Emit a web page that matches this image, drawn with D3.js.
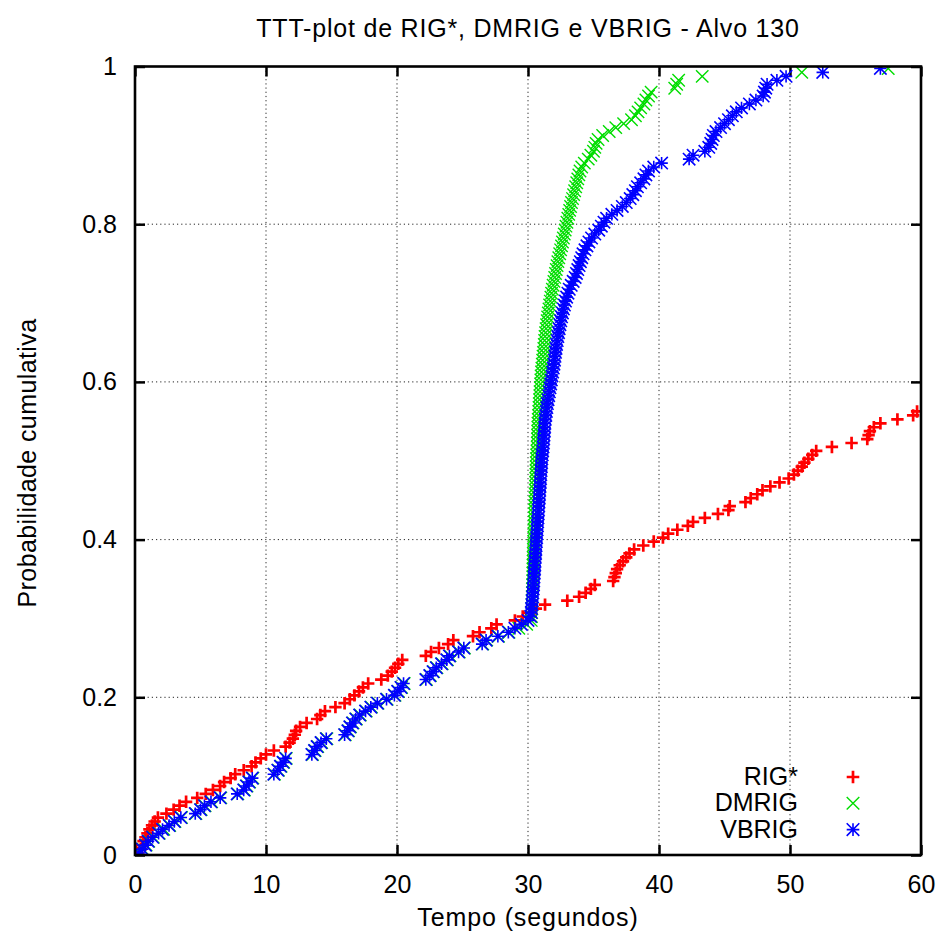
<!DOCTYPE html>
<html>
<head>
<meta charset="utf-8">
<script src="https://cdn.jsdelivr.net/npm/d3@7"></script>
<style>
  html, body { margin: 0; padding: 0; background: #fff; }
  svg { display: block; font-family: "Liberation Sans", Arial, Helvetica, sans-serif; }
</style>
</head>
<body>
<svg id="chart" width="942" height="936"></svg>
<script>
// ---------- data ----------
const title = "TTT-plot de RIG*, DMRIG e VBRIG - Alvo 130";
const xLabel = "Tempo (segundos)";
const yLabel = "Probabilidade cumulativa";
const xTicks = [0, 10, 20, 30, 40, 50, 60];
const yTicks = [0, 0.2, 0.4, 0.6, 0.8, 1];
const seriesNames = ["RIG*", "DMRIG", "VBRIG"];
const runs = 200; // number of runs per algorithm (empirical CDF: p_i = (i - 1/2) / runs)

// sorted times to target (seconds); points beyond 60 s are off-chart
const timesRIG = [0.2,0.45,0.55,0.65,0.8,0.95,1.1,1.3,1.5,1.75,2.4,2.95,3.4,3.9,4.75,5.4,5.95,6.5,6.8,7.3,
  7.65,8.3,8.9,9.2,9.6,10.0,10.6,11.5,11.8,12.05,12.2,12.3,12.6,13.1,13.9,14.15,14.5,15.3,16.0,16.4,
  16.75,17.1,17.4,17.8,18.8,19.3,19.6,19.85,20.1,20.4,22.2,22.6,23.2,23.9,24.3,25.8,26.3,27.2,27.6,29.0,
  29.6,30.1,30.6,31.3,33.0,33.9,34.4,34.8,35.1,36.5,36.6,36.7,36.8,37.0,37.25,37.5,37.75,38.1,38.8,39.6,
  40.3,40.7,41.4,42.2,42.6,43.5,44.5,45.3,45.4,46.6,47.0,47.5,47.9,48.5,49.2,49.9,50.3,50.6,50.9,51.1,
  51.4,51.7,52.0,53.2,54.7,55.9,56.0,56.1,56.4,56.9,58.2,59.4,59.7];

const timesDMRIG = [0.35,0.6,0.85,1.05,1.4,1.85,2.2,2.65,3.05,3.55,4.65,5.05,5.35,5.85,6.55,7.85,8.35,8.55,8.75,9.0,
  10.65,10.95,11.15,11.35,11.55,13.55,13.75,13.95,14.25,14.65,16.05,16.3,16.45,16.65,16.9,17.2,17.65,18.05,18.55,19.25,
  19.85,20.1,20.35,20.55,22.25,22.55,22.8,23.05,23.45,23.85,24.05,24.75,25.15,26.55,26.85,27.75,28.55,29.3,29.9,30.25,
  30.27,30.28,30.29,30.3,30.31,30.32,30.33,30.34,30.35,30.36,30.37,30.37,30.38,30.38,30.39,30.39,30.4,30.41,30.42,30.43,
  30.44,30.45,30.46,30.47,30.48,30.49,30.5,30.51,30.52,30.53,30.54,30.55,30.56,30.57,30.58,30.59,30.6,30.61,30.62,30.63,
  30.64,30.66,30.68,30.7,30.71,30.72,30.73,30.74,30.75,30.76,30.78,30.8,30.82,30.84,30.86,30.88,30.9,30.92,30.94,30.96,
  30.98,31.0,31.03,31.06,31.09,31.12,31.15,31.18,31.21,31.24,31.27,31.3,31.34,31.38,31.42,31.46,31.5,31.55,31.6,31.65,
  31.7,31.75,31.8,31.86,31.92,31.98,32.04,32.1,32.16,32.22,32.28,32.35,32.42,32.49,32.56,32.63,32.7,32.77,32.84,32.9,
  32.97,33.04,33.11,33.18,33.25,33.32,33.4,33.48,33.56,33.64,33.72,33.8,33.88,33.97,34.1,34.3,34.6,34.8,35.0,35.1,
  35.2,35.35,35.7,36.2,36.7,37.3,37.9,38.2,38.4,38.6,38.85,39.0,39.2,39.4,41.2,41.35,41.5,43.3,50.9,57.5];

const timesVBRIG = [0.3,0.55,0.8,1.0,1.35,1.8,2.1,2.6,3.0,3.5,4.6,5.0,5.3,5.8,6.5,7.8,8.3,8.5,8.7,8.95,
  10.6,10.9,11.1,11.3,11.5,13.5,13.7,13.9,14.2,14.6,16.0,16.25,16.4,16.6,16.85,17.15,17.6,18.0,18.5,19.2,
  19.8,20.05,20.3,20.5,22.2,22.5,22.75,23.0,23.4,23.8,24.0,24.7,25.1,26.5,26.8,27.7,28.5,29.0,29.5,30.0,
  30.2,30.25,30.27,30.3,30.32,30.35,30.37,30.4,30.42,30.44,30.46,30.48,30.5,30.52,30.54,30.56,30.58,30.6,30.62,30.64,
  30.66,30.68,30.7,30.72,30.74,30.76,30.78,30.8,30.82,30.84,30.86,30.88,30.9,30.92,30.94,30.96,30.98,31.0,31.02,31.04,
  31.06,31.09,31.12,31.15,31.18,31.2,31.22,31.25,31.27,31.29,31.32,31.36,31.4,31.44,31.48,31.53,31.58,31.63,31.68,31.73,
  31.78,31.83,31.88,31.93,31.98,32.02,32.06,32.1,32.14,32.18,32.23,32.28,32.33,32.38,32.44,32.5,32.56,32.63,32.7,32.78,
  32.86,32.95,33.05,33.15,33.3,33.45,33.6,33.7,33.8,33.9,34.0,34.1,34.2,34.35,34.5,34.65,34.85,35.1,35.4,35.6,
  35.8,36.0,36.4,36.8,37.2,37.5,37.8,38.0,38.2,38.35,38.6,38.85,39.0,39.2,39.6,40.2,42.3,42.6,43.5,43.8,
  43.95,44.05,44.15,44.35,44.7,45.0,45.3,45.6,45.9,46.3,46.9,47.4,47.95,48.05,48.15,48.25,49.0,49.7,52.5,56.9];

const seriesColors = ["#ff0000", "#00dd00", "#0000ff"];
const seriesShapes = ["plus", "times", "asterisk"];

// ---------- layout ----------
const plotL = 135, plotR = 921, plotT = 66.5, plotB = 855;
const FONT = 25;

const svg = d3.select("#chart");
const x = d3.scaleLinear().domain([0, 60]).range([plotL, plotR]);
const y = d3.scaleLinear().domain([0, 1]).range([plotB, plotT]);

// grid
const grid = svg.append("g").attr("stroke", "#000").attr("stroke-width", 1)
  .attr("stroke-dasharray", "1.2,3").attr("opacity", 0.85);
grid.selectAll("line.gx").data(xTicks.filter(t => t > 0 && t < 60)).join("line")
  .attr("x1", d => x(d)).attr("x2", d => x(d)).attr("y1", plotT).attr("y2", plotB);
grid.selectAll("line.gy").data(yTicks.filter(t => t > 0 && t < 1)).join("line")
  .attr("y1", d => y(d)).attr("y2", d => y(d)).attr("x1", plotL).attr("x2", plotR);

// axes (ticks pointing inward, mirrored)
function styleAxis(g) {
  g.select(".domain").remove();
  g.selectAll(".tick line").attr("stroke", "#000").attr("stroke-width", 2.5);
  g.selectAll(".tick text").attr("fill", "#000").attr("font-size", FONT)
    .attr("font-family", "'Liberation Sans', Arial, Helvetica, sans-serif");
}
const fmtY = d => d === 0 ? "0" : d === 1 ? "1" : String(d);
svg.append("g").attr("transform", `translate(0,${plotB})`)
  .call(d3.axisBottom(x).tickValues(xTicks).tickSize(-10).tickPadding(20).tickFormat(d3.format("d")))
  .call(styleAxis);
svg.append("g").attr("transform", `translate(0,${plotT})`)
  .call(d3.axisTop(x).tickValues(xTicks).tickSize(-10).tickFormat(""))
  .call(styleAxis);
svg.append("g").attr("transform", `translate(${plotL},0)`)
  .call(d3.axisLeft(y).tickValues(yTicks).tickSize(-10).tickPadding(18).tickFormat(fmtY))
  .call(styleAxis);
svg.append("g").attr("transform", `translate(${plotR},0)`)
  .call(d3.axisRight(y).tickValues(yTicks).tickSize(-10).tickFormat(""))
  .call(styleAxis);

// marker shapes
function shapePath(kind, h) {
  const plus = `M${-h},0H${h}M0,${-h}V${h}`;
  const times = `M${-h},${-h}L${h},${h}M${-h},${h}L${h},${-h}`;
  if (kind === "plus") return plus;
  if (kind === "times") return times;
  return plus + times;
}
const strokeW = { plus: 2.7, times: 1.4, asterisk: 1.6 };

// points (clipped to plot area)
svg.append("defs").append("clipPath").attr("id", "plotclip")
  .append("rect").attr("x", plotL).attr("y", plotT).attr("width", plotR - plotL).attr("height", plotB - plotT);
const plot = svg.append("g").attr("clip-path", "url(#plotclip)");
const allTimes = [timesRIG, timesDMRIG, timesVBRIG];
allTimes.forEach((times, s) => {
  const pts = times.map((t, i) => ({ t, p: (i + 0.5) / runs }));
  plot.append("g")
    .selectAll("path").data(pts).join("path")
    .attr("transform", d => `translate(${x(d.t)},${y(d.p)})`)
    .attr("d", shapePath(seriesShapes[s], 6.2))
    .attr("fill", "none")
    .attr("stroke", seriesColors[s])
    .attr("stroke-width", strokeW[seriesShapes[s]]);
});

// border
svg.append("rect").attr("x", plotL).attr("y", plotT).attr("width", plotR - plotL).attr("height", plotB - plotT)
  .attr("fill", "none").attr("stroke", "#000").attr("stroke-width", 2.6);

// legend
const legend = svg.append("g");
seriesNames.forEach((name, s) => {
  const by = 785 + s * 26.3;
  legend.append("text").attr("x", 798).attr("y", by).attr("text-anchor", "end")
    .attr("font-size", FONT).attr("fill", "#000").text(name);
  legend.append("path").attr("transform", `translate(853,${by - 8})`)
    .attr("d", shapePath(seriesShapes[s], 6.3)).attr("fill", "none")
    .attr("stroke", seriesColors[s]).attr("stroke-width", strokeW[seriesShapes[s]]);
});

// titles
svg.append("text").attr("x", 528).attr("y", 37).attr("text-anchor", "middle")
  .attr("font-size", FONT).attr("letter-spacing", 0.8).attr("fill", "#000").text(title);
svg.append("text").attr("x", 528).attr("y", 926).attr("text-anchor", "middle")
  .attr("font-size", FONT).attr("letter-spacing", 0.9).attr("fill", "#000").text(xLabel);
svg.append("text").attr("transform", "translate(36,463) rotate(-90)").attr("text-anchor", "middle")
  .attr("font-size", FONT).attr("letter-spacing", 0.4).attr("fill", "#000").text(yLabel);
</script>
</body>
</html>
